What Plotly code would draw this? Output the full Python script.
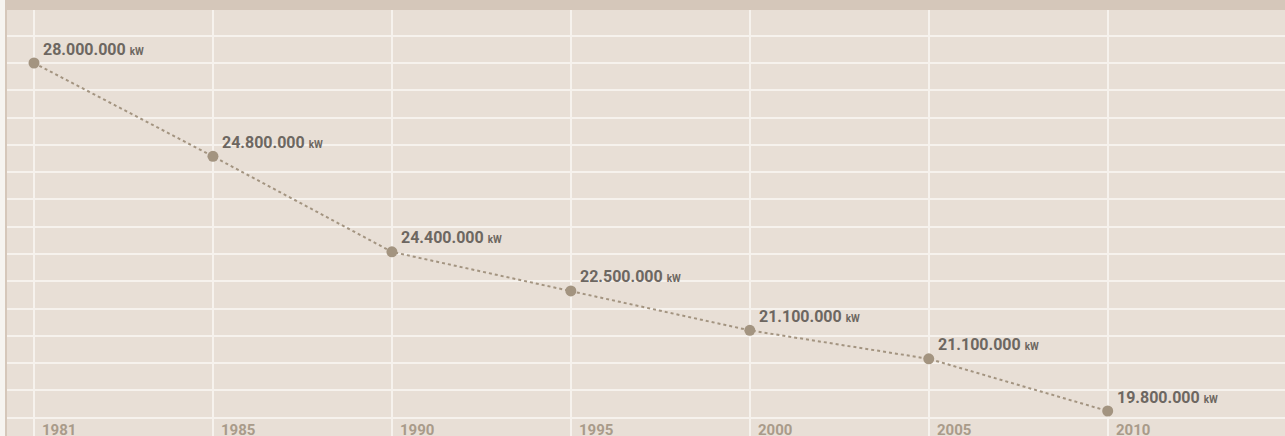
import plotly.graph_objects as go

years = ["1981", "1985", "1990", "1995", "2000", "2005", "2010"]
# values as labelled on the chart (kW)
labels = ["28.000.000", "24.800.000", "24.400.000", "22.500.000", "21.100.000", "21.100.000", "19.800.000"]
levels = [28.0, 25.80, 23.55, 22.63, 21.70, 21.03, 19.80]

W, H = 1285, 436
ML, MT = 5, 10
PW, PH = W - ML, H - MT

PT_COLOR = "#a39480"
LABEL_COLOR = "#6d6761"
YEAR_COLOR = "#a99b8a"
GRID = "#f6f2ed"

idx = list(range(len(years)))

fig = go.Figure()
fig.add_trace(go.Scatter(
    x=idx, y=levels, mode="lines+markers",
    line=dict(color=PT_COLOR, width=2, dash="dot"),
    marker=dict(color=PT_COLOR, size=11),
    hoverinfo="skip", showlegend=False,
))

font_fam = "Roboto, 'DejaVu Sans', sans-serif"
annotations = []
for i, (lv, lab) in enumerate(zip(levels, labels)):
    annotations.append(dict(
        x=i, y=lv, xref="x", yref="y",
        text=f"<b>{lab}</b> <b><span style='font-size:10px'>kW</span></b>",
        showarrow=False, xanchor="left", yanchor="middle",
        xshift=7, yshift=14,
        font=dict(family=font_fam, size=16, color=LABEL_COLOR),
    ))
for i, yr in enumerate(years):
    annotations.append(dict(
        x=i, y=0, xref="x", yref="paper",
        text=f"<b>{yr}</b>",
        showarrow=False, xanchor="left", yanchor="top",
        xshift=6, yshift=17,
        font=dict(family=font_fam, size=15, color=YEAR_COLOR),
    ))

# axis geometry
px_per_cat = 178.95
x0 = -(34 - ML) / px_per_cat
x1 = x0 + PW / px_per_cat
px_per_unit = 42.44
y_top = 28.0 + (63 - MT) / px_per_unit
y_bot = 28.0 - (H - 63) / px_per_unit
grid_step = 27.29 / px_per_unit

fig.update_layout(
    width=W, height=H,
    margin=dict(l=ML, r=0, t=MT, b=0),
    paper_bgcolor="#f6f4f0",
    plot_bgcolor="#e8dfd6",
    xaxis=dict(range=[x0, x1], tickvals=idx, showticklabels=False,
               showgrid=True, gridcolor=GRID, gridwidth=1.5, zeroline=False,
               showline=False, fixedrange=True),
    yaxis=dict(range=[y_bot, y_top], tick0=28.0, dtick=grid_step,
               showticklabels=False, showgrid=True, gridcolor=GRID, gridwidth=1.5,
               zeroline=False, showline=False, fixedrange=True),
    annotations=annotations,
    shapes=[
        dict(type="rect", xref="paper", yref="paper", x0=0, x1=1,
             y0=1, y1=1 + MT / PH, fillcolor="#d5c7ba", line=dict(width=0), layer="above"),
        dict(type="rect", xref="paper", yref="paper", x0=0, x1=2 / PW,
             y0=0, y1=1 + MT / PH, fillcolor="#d5c7ba", line=dict(width=0), layer="above"),
    ],
    showlegend=False,
)

fig.write_html("out.html", config={"displayModeBar": False})
